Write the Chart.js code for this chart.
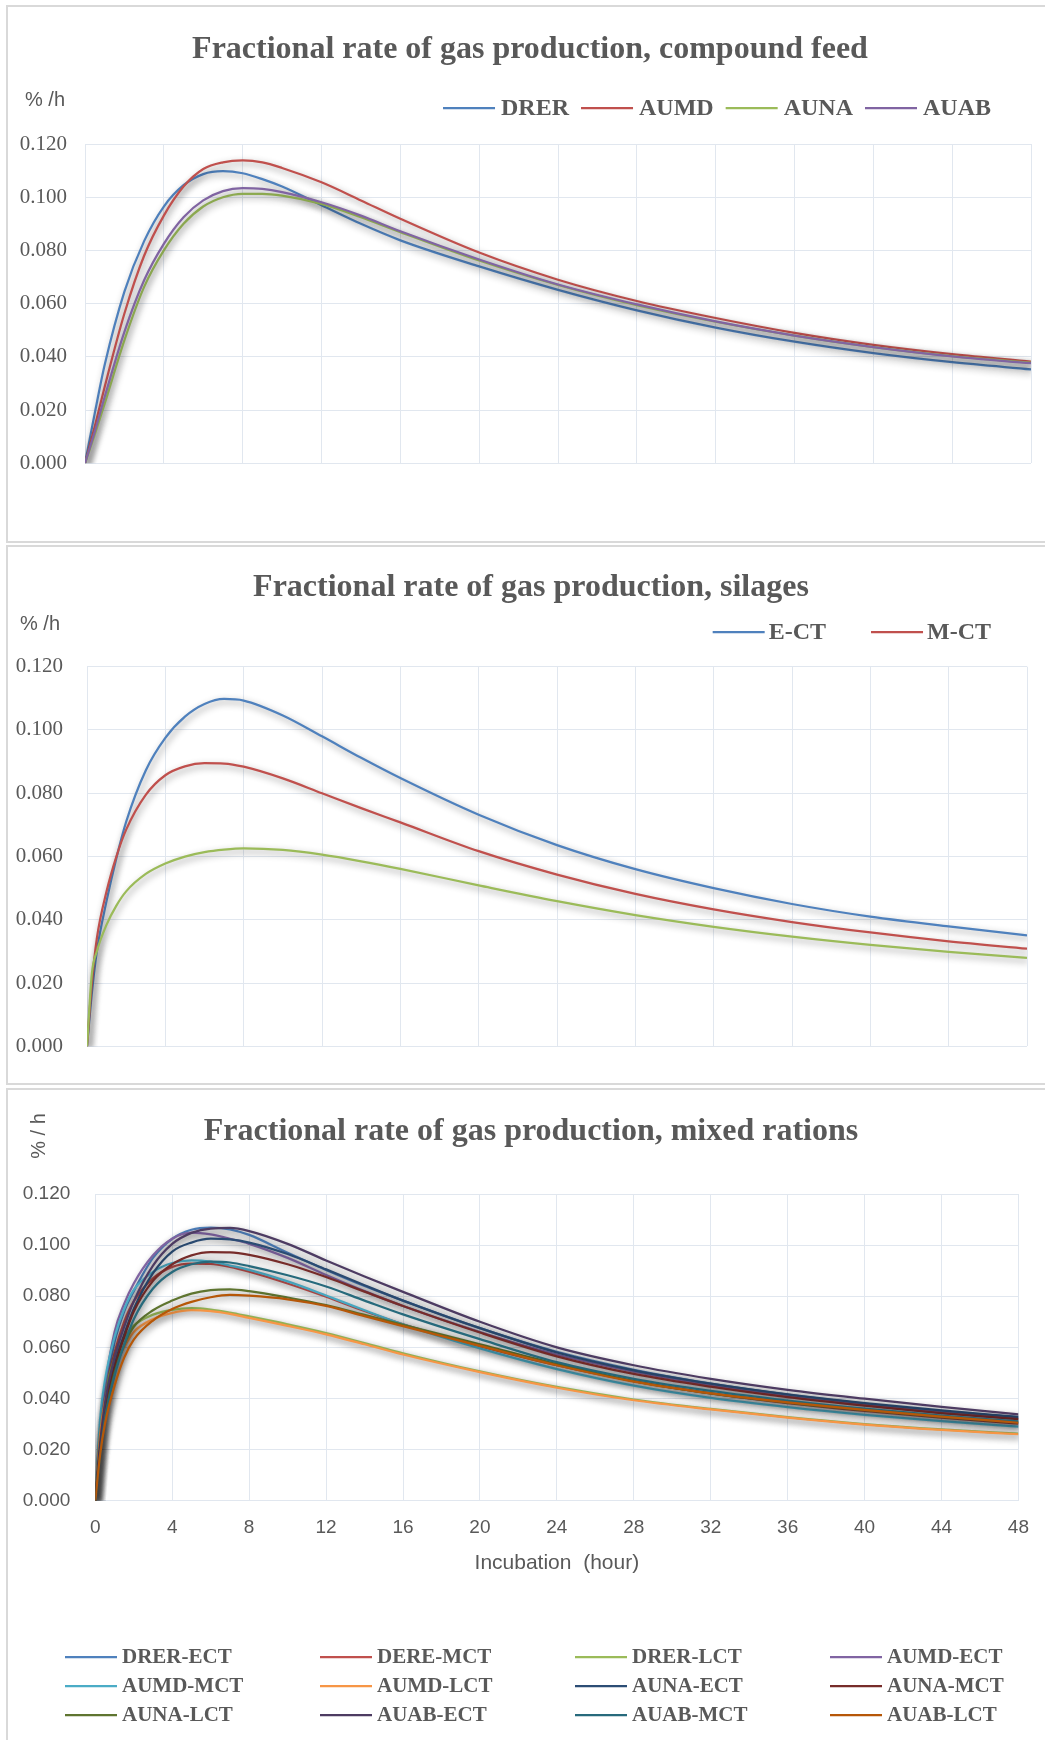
<!DOCTYPE html>
<html>
<head>
<meta charset="utf-8">
<script src="https://cdn.jsdelivr.net/npm/chart.js@4.4.1/dist/chart.umd.min.js"></script>
<style>
  body { margin: 0; background: #fff; width: 1045px; height: 1740px; position: relative; overflow: hidden; }
  .box { position: absolute; left: 6px; width: 1045px; border: 2px solid #d9d9d9; border-right: none; box-sizing: border-box; }
  canvas { position: absolute; left: 8px; }
</style>
</head>
<body>
<div class="box" style="top:5px;height:538px"></div>
<div class="box" style="top:545px;height:540px"></div>
<div class="box" style="top:1088px;height:700px"></div>
<canvas id="feed" width="1037" height="534" style="top:7px"></canvas>
<canvas id="silage" width="1037" height="536" style="top:547px"></canvas>
<canvas id="mixed" width="1037" height="650" style="top:1090px"></canvas>
<script>
// incubation hours (x) and fractional rates (%/h)
const hoursFeed = [0, 0.5, 1, 2, 3, 4, 5, 6, 7, 8, 9, 10, 12, 14, 16, 20, 24, 28, 32, 36, 40, 44, 48];
const feedDRER = [0, 0.019, 0.037, 0.0645, 0.0835, 0.0965, 0.1045, 0.1087, 0.1098, 0.109, 0.1068, 0.104, 0.097, 0.090, 0.0838, 0.074, 0.0652, 0.0575, 0.051, 0.0457, 0.0414, 0.038, 0.0353];
const feedAUMD = [0, 0.014, 0.0288, 0.0563, 0.078, 0.0931, 0.104, 0.1106, 0.1131, 0.1138, 0.1131, 0.111, 0.1056, 0.0988, 0.0919, 0.0792, 0.069, 0.061, 0.0546, 0.049, 0.0445, 0.041, 0.0382];
const feedAUNA = [0, 0.011, 0.0225, 0.0463, 0.0663, 0.080, 0.090, 0.0965, 0.100, 0.1013, 0.1013, 0.1006, 0.0975, 0.0925, 0.0869, 0.0762, 0.067, 0.0594, 0.0532, 0.048, 0.0437, 0.0403, 0.0378];
const feedAUAB = [0, 0.012, 0.025, 0.0494, 0.0688, 0.0825, 0.0925, 0.0988, 0.1023, 0.1034, 0.1031, 0.1019, 0.0981, 0.0931, 0.0872, 0.0766, 0.0672, 0.0597, 0.0533, 0.048, 0.0437, 0.0402, 0.0376];

const hoursSilage = [0, 0.25, 0.5, 1, 1.5, 2, 3, 4, 5, 6, 7, 8, 10, 12, 14, 16, 20, 24, 28, 32, 36, 40, 44, 48];
const silageECT = [0, 0.017, 0.030, 0.046, 0.0595, 0.071, 0.0872, 0.0975, 0.1042, 0.1082, 0.1098, 0.1093, 0.1046, 0.098, 0.0912, 0.0848, 0.0732, 0.0636, 0.056, 0.050, 0.045, 0.041, 0.0379, 0.0351];
const silageMCT = [0, 0.02, 0.034, 0.049, 0.060, 0.0685, 0.0795, 0.0857, 0.0885, 0.0895, 0.0894, 0.0884, 0.0847, 0.080, 0.0753, 0.0708, 0.0617, 0.0543, 0.0482, 0.0433, 0.0393, 0.036, 0.0332, 0.0309];
const silageLCT = [0, 0.023, 0.030, 0.0385, 0.0445, 0.049, 0.0545, 0.0578, 0.060, 0.0614, 0.0622, 0.0626, 0.0621, 0.0606, 0.0585, 0.0561, 0.0509, 0.0459, 0.0415, 0.0378, 0.0347, 0.0321, 0.0299, 0.028];

const hoursMixed = [0, 0.25, 0.5, 1, 1.5, 2, 3, 4, 5, 6, 7, 8, 10, 12, 14, 16, 20, 24, 28, 32, 36, 40, 44, 48];
const mixDRER_ECT = [0, 0.025, 0.042, 0.062, 0.074, 0.082, 0.095, 0.1025, 0.106, 0.1068, 0.1062, 0.104, 0.097, 0.0903, 0.084, 0.0783, 0.0675, 0.0582, 0.0512, 0.0458, 0.0415, 0.038, 0.035, 0.0326];
const mixDERE_MCT = [0, 0.025, 0.041, 0.058, 0.070, 0.078, 0.087, 0.0915, 0.0928, 0.0927, 0.0915, 0.0896, 0.085, 0.0798, 0.0742, 0.069, 0.0605, 0.053, 0.0468, 0.042, 0.0382, 0.0351, 0.0325, 0.0302];
const mixDRER_LCT = [0, 0.028, 0.042, 0.056, 0.0635, 0.0685, 0.0728, 0.0747, 0.0753, 0.0748, 0.0736, 0.0721, 0.069, 0.0656, 0.0617, 0.0577, 0.0506, 0.0445, 0.0396, 0.0359, 0.0327, 0.0300, 0.0279, 0.0262];
const mixAUMD_ECT = [0, 0.026, 0.044, 0.066, 0.077, 0.085, 0.096, 0.1025, 0.1049, 0.1042, 0.1025, 0.1005, 0.095, 0.0883, 0.082, 0.0762, 0.066, 0.0572, 0.0505, 0.0452, 0.0409, 0.0374, 0.0344, 0.032];
const mixAUMD_MCT = [0, 0.032, 0.047, 0.064, 0.075, 0.0825, 0.0895, 0.093, 0.094, 0.0935, 0.092, 0.0903, 0.0858, 0.0803, 0.0745, 0.069, 0.0596, 0.0515, 0.045, 0.0402, 0.0366, 0.0336, 0.0311, 0.029];
const mixAUMD_LCT = [0, 0.026, 0.039, 0.052, 0.060, 0.066, 0.071, 0.0735, 0.0746, 0.0742, 0.0731, 0.0715, 0.0684, 0.0651, 0.0612, 0.0572, 0.0503, 0.0442, 0.0393, 0.0357, 0.0325, 0.0298, 0.0277, 0.026];
const mixAUNA_ECT = [0, 0.02, 0.035, 0.053, 0.065, 0.075, 0.089, 0.0975, 0.101, 0.1025, 0.1022, 0.101, 0.0965, 0.0905, 0.0843, 0.0783, 0.0675, 0.058, 0.051, 0.0458, 0.0416, 0.0382, 0.0353, 0.0328];
const mixAUNA_MCT = [0, 0.02, 0.035, 0.052, 0.064, 0.074, 0.086, 0.0925, 0.096, 0.0973, 0.0972, 0.0962, 0.0925, 0.0875, 0.0818, 0.0762, 0.0658, 0.0565, 0.0496, 0.0446, 0.0405, 0.0372, 0.0343, 0.0319];
const mixAUNA_LCT = [0, 0.02, 0.033, 0.05, 0.061, 0.068, 0.0745, 0.0783, 0.081, 0.0824, 0.0827, 0.082, 0.0795, 0.0765, 0.0727, 0.0688, 0.0612, 0.0535, 0.0468, 0.042, 0.0384, 0.0354, 0.0328, 0.0306];
const mixAUAB_ECT = [0, 0.022, 0.038, 0.056, 0.068, 0.078, 0.092, 0.1005, 0.1048, 0.1065, 0.1067, 0.1055, 0.1005, 0.094, 0.0877, 0.0817, 0.070, 0.060, 0.053, 0.0477, 0.0434, 0.0399, 0.0367, 0.0338];
const mixAUAB_MCT = [0, 0.018, 0.032, 0.049, 0.061, 0.071, 0.083, 0.0895, 0.0925, 0.0935, 0.0932, 0.0918, 0.0882, 0.0838, 0.0783, 0.0729, 0.0632, 0.0542, 0.0477, 0.043, 0.0392, 0.036, 0.0333, 0.031];
const mixAUAB_LCT = [0, 0.018, 0.03, 0.045, 0.056, 0.063, 0.0705, 0.075, 0.0778, 0.0796, 0.0805, 0.0802, 0.0788, 0.0762, 0.0722, 0.0683, 0.0606, 0.053, 0.0466, 0.042, 0.0385, 0.0355, 0.0329, 0.0305];

const feedNames = ['DRER', 'AUMD', 'AUNA', 'AUAB'];
const silageNames = ['E-CT', 'M-CT', 'L-CT'];
const mixedNames = ['DRER-ECT', 'DERE-MCT', 'DRER-LCT', 'AUMD-ECT', 'AUMD-MCT', 'AUMD-LCT',
                    'AUNA-ECT', 'AUNA-MCT', 'AUNA-LCT', 'AUAB-ECT', 'AUAB-MCT', 'AUAB-LCT'];

const office = ['#4F81BD', '#C0504D', '#9BBB59', '#8064A2', '#4BACC6', '#F79646',
                '#2C4D75', '#772C2A', '#5F7530', '#4D3B62', '#276A7C', '#B65708'];
const GRID = '#e1e7ef';
const TEXT = '#595959';
const TITLE_FONT = 'bold 32px "Liberation Serif"';
const UNIT_FONT = '20px "Liberation Sans"';

// Excel-like soft shadow under the lines
const lineShadow = {
  id: 'lineShadow',
  beforeDatasetsDraw(chart) {
    const ctx = chart.ctx;
    ctx.save();
    ctx.shadowColor = 'rgba(0,0,0,0.45)';
    ctx.shadowBlur = 7;
    ctx.shadowOffsetX = 2;
    ctx.shadowOffsetY = 3;
  },
  afterDatasetsDraw(chart) {
    chart.ctx.restore();
  }
};

// free text: chart title and unit label
const notes = {
  id: 'notes',
  afterDraw(chart, args, opts) {
    const ctx = chart.ctx;
    (opts.items || []).forEach(n => {
      ctx.save();
      ctx.font = n.font;
      ctx.fillStyle = TEXT;
      ctx.textAlign = n.align || 'left';
      ctx.textBaseline = 'middle';
      ctx.translate(n.x, n.y);
      if (n.rotate) ctx.rotate(n.rotate);
      ctx.fillText(n.text, 0, 0);
      ctx.restore();
    });
  }
};

// legend with line swatches, either one right-aligned row or a grid
const lineLegend = {
  id: 'lineLegend',
  afterDraw(chart, args, o) {
    if (!o.font) return;
    const ctx = chart.ctx;
    const items = chart.data.datasets.filter(d => !d.noLegend);
    ctx.save();
    ctx.font = o.font;
    ctx.textBaseline = 'middle';
    const widths = items.map(d => ctx.measureText(d.label).width);
    let pos;
    if (o.cols) {
      pos = items.map((d, i) => ({ x: o.x + (i % o.cols) * o.colW, y: o.y + Math.floor(i / o.cols) * o.rowH }));
    } else {
      const total = widths.reduce((a, w) => a + o.lineW + o.gap + w, 0) + o.spacing * (items.length - 1);
      let x = o.xEnd - total;
      pos = items.map((d, i) => {
        const p = { x, y: o.y };
        x += o.lineW + o.gap + widths[i] + o.spacing;
        return p;
      });
    }
    items.forEach((d, i) => {
      const p = pos[i];
      ctx.strokeStyle = d.borderColor;
      ctx.lineWidth = d.borderWidth;
      ctx.beginPath();
      ctx.moveTo(p.x, p.y);
      ctx.lineTo(p.x + o.lineW, p.y);
      ctx.stroke();
      ctx.fillStyle = TEXT;
      ctx.fillText(d.label, p.x + o.lineW + o.gap, p.y + 1);
    });
    ctx.restore();
  }
};

function lineSets(names, series, hours) {
  return names.map((name, i) => ({
    label: name,
    data: hours.map((h, k) => ({ x: h, y: series[i][k] })),
    borderColor: office[i],
    borderWidth: 2.25,
    pointRadius: 0,
    cubicInterpolationMode: 'monotone',
    fill: false,
    order: -i
  }));
}

function makeChart(id, o) {
  return new Chart(document.getElementById(id), {
    type: 'line',
    data: { datasets: o.datasets },
    plugins: [lineShadow, notes, lineLegend],
    options: {
      responsive: false,
      animation: false,
      devicePixelRatio: 1,
      layout: { padding: o.padding },
      plugins: {
        legend: { display: false },
        tooltip: { enabled: false },
        title: { display: false },
        notes: { items: o.notes },
        lineLegend: o.legend
      },
      scales: {
        x: {
          type: 'linear',
          min: 0,
          max: 48,
          border: { display: false },
          grid: { color: GRID, drawTicks: false },
          ticks: {
            stepSize: 4,
            display: !!o.xTicks,
            padding: 16,
            color: TEXT,
            font: { family: 'Liberation Sans', size: 19 }
          },
          title: o.xTitle || { display: false },
          afterFit: s => { s.height = o.xHeight; }
        },
        y: {
          min: 0,
          max: 0.12,
          border: { display: false },
          grid: { color: GRID, drawTicks: false },
          ticks: {
            stepSize: 0.02,
            padding: o.yPad,
            color: TEXT,
            font: o.yFont,
            callback: v => v.toFixed(3)
          },
          afterFit: s => { s.width = o.yWidth; }
        }
      }
    }
  });
}

const serifTicks = { family: 'Liberation Serif', size: 21 };

makeChart('feed', {
  datasets: lineSets(feedNames, [feedDRER, feedAUMD, feedAUNA, feedAUAB], hoursFeed),
  padding: { left: 0, right: 14, top: 137, bottom: 77.7 },
  xHeight: 0,
  yWidth: 77,
  yPad: 18,
  yFont: serifTicks,
  notes: [
    { text: 'Fractional rate of gas production, compound feed', x: 522, y: 42.5, font: TITLE_FONT, align: 'center' },
    { text: '% /h', x: 17, y: 93, font: UNIT_FONT }
  ],
  legend: { font: 'bold 24px "Liberation Serif"', y: 101, xEnd: 983, lineW: 52, gap: 6, spacing: 12 }
});

const silageSets = lineSets(silageNames, [silageECT, silageMCT, silageLCT], hoursSilage);
silageSets[2].noLegend = true;
makeChart('silage', {
  datasets: silageSets,
  padding: { left: 0, right: 18, top: 119.7, bottom: 36.3 },
  xHeight: 0,
  yWidth: 79,
  yPad: 24,
  yFont: serifTicks,
  notes: [
    { text: 'Fractional rate of gas production, silages', x: 523, y: 40.5, font: TITLE_FONT, align: 'center' },
    { text: '% /h', x: 12, y: 77, font: UNIT_FONT }
  ],
  legend: { font: 'bold 24px "Liberation Serif"', y: 85, xEnd: 983, lineW: 52, gap: 4, spacing: 45 }
});

makeChart('mixed', {
  datasets: lineSets(mixedNames, [mixDRER_ECT, mixDERE_MCT, mixDRER_LCT, mixAUMD_ECT, mixAUMD_MCT, mixAUMD_LCT,
    mixAUNA_ECT, mixAUNA_MCT, mixAUNA_LCT, mixAUAB_ECT, mixAUAB_MCT, mixAUAB_LCT], hoursMixed),
  padding: { left: 0, right: 21.7, top: 104, bottom: 149.3 },
  xHeight: 90,
  xTicks: true,
  xTitle: {
    display: true,
    text: 'Incubation  (hour)',
    color: TEXT,
    font: { family: 'Liberation Sans', size: 21, lineHeight: 1.2 },
    padding: { top: 0, bottom: 14.5 }
  },
  yWidth: 87.3,
  yPad: 25,
  yFont: { family: 'Liberation Sans', size: 19 },
  notes: [
    { text: 'Fractional rate of gas production, mixed rations', x: 523, y: 42, font: TITLE_FONT, align: 'center' },
    { text: '% / h', x: 31, y: 46, font: UNIT_FONT, align: 'center', rotate: -Math.PI / 2 }
  ],
  legend: { font: 'bold 21px "Liberation Serif"', x: 57, y: 567, cols: 4, colW: 255, rowH: 29, lineW: 52, gap: 5 }
});
</script>
</body>
</html>
